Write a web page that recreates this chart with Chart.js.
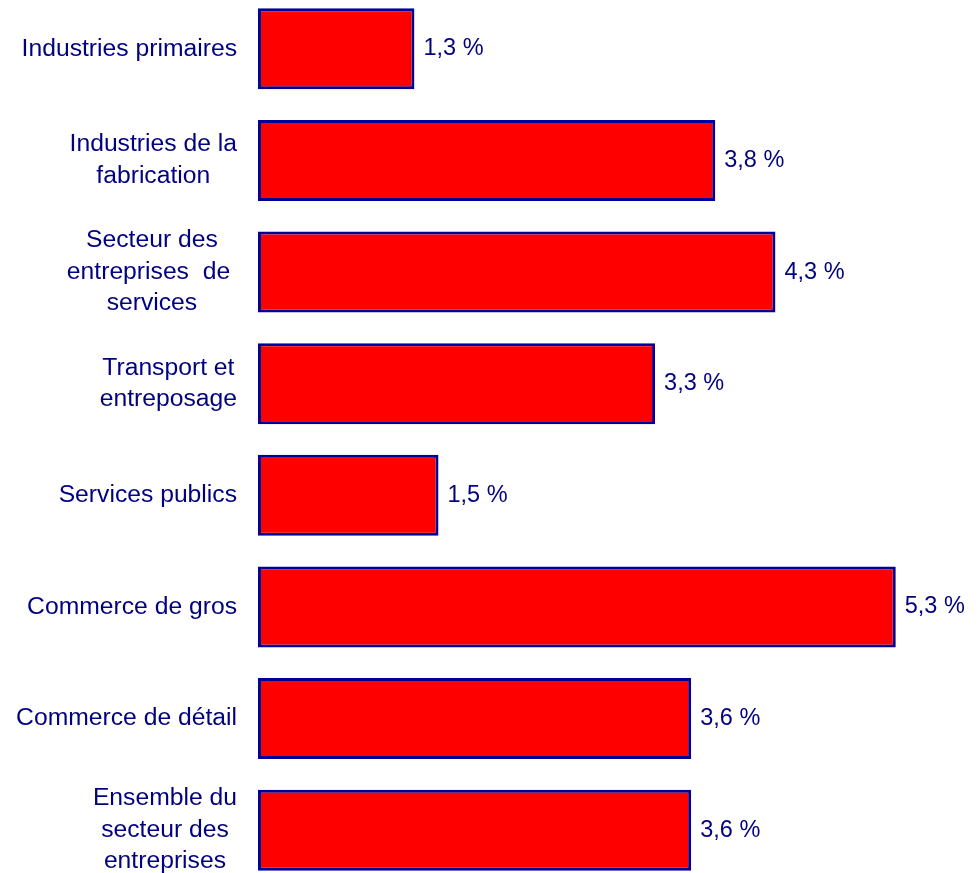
<!DOCTYPE html>
<html lang="fr">
<head>
<meta charset="utf-8">
<title>Secteurs</title>
<script src="https://cdn.jsdelivr.net/npm/chart.js@4/dist/chart.umd.min.js"></script>
<style>
  html, body { margin: 0; padding: 0; background: #fff; overflow: hidden; }
  body { width: 978px; height: 873px; position: relative; }
  #wrap { position: absolute; left: 0; top: -7px; width: 980px; height: 893px; }
</style>
</head>
<body>
<div id="wrap"><canvas id="chart"></canvas></div>
<script>
// libellés des secteurs, une ligne par élément
const sectors = [
  ['Industries primaires'],
  ['Industries de la', 'fabrication'],
  ['Secteur des', 'entreprises  de ', 'services'],
  ['Transport et', 'entreposage'],
  ['Services publics'],
  ['Commerce de gros'],
  ['Commerce de détail'],
  ['Ensemble du', 'secteur des', 'entreprises'],
];
const growth = [1.3, 3.8, 4.3, 3.3, 1.5, 5.3, 3.6, 3.6];
const axisMax = 6;

const NAVY = '#000080';
const LABEL_FONT = '24.7px "Liberation Sans", Arial, sans-serif';
const VALUE_FONT = '23.5px "Liberation Sans", Arial, sans-serif';

function formatPct(v) {
  return v.toFixed(1).replace('.', ',') + ' %';
}

// étiquettes de catégories (blocs alignés à droite, lignes centrées) et valeurs en bout de barre
const labelsPlugin = {
  id: 'sectorLabels',
  afterDatasetsDraw(chart) {
    const { ctx } = chart;
    const yScale = chart.scales.y;
    const meta = chart.getDatasetMeta(0);
    const lineH = 31.5;
    const rightEdge = 237;
    ctx.save();
    ctx.fillStyle = NAVY;
    ctx.textBaseline = 'middle';

    ctx.font = LABEL_FONT;
    ctx.textAlign = 'center';
    sectors.forEach((lines, i) => {
      const y = yScale.getPixelForValue(i);
      const widest = Math.max(...lines.map((l) => ctx.measureText(l).width));
      const cx = rightEdge - widest / 2;
      const top = y - ((lines.length - 1) * lineH) / 2;
      lines.forEach((l, k) => ctx.fillText(l, cx, top + k * lineH));
    });

    ctx.font = VALUE_FONT;
    ctx.textAlign = 'left';
    meta.data.forEach((bar, i) => {
      ctx.fillText(formatPct(growth[i]), bar.x + 9, bar.y);
    });
    ctx.restore();
  },
};

new Chart(document.getElementById('chart'), {
  type: 'bar',
  data: {
    labels: sectors,
    datasets: [{
      data: growth,
      backgroundColor: '#ff0000',
      borderColor: '#000099',
      borderWidth: 3,
      borderSkipped: false,
      categoryPercentage: 1,
      barPercentage: 0.726,
    }],
  },
  options: {
    indexAxis: 'y',
    responsive: true,
    maintainAspectRatio: false,
    animation: false,
    layout: { padding: { left: 258, right: 0, top: 0, bottom: 0 } },
    plugins: { legend: { display: false }, tooltip: { enabled: false } },
    scales: {
      x: { display: false, min: 0, max: axisMax },
      y: { display: false },
    },
  },
  plugins: [labelsPlugin],
});
</script>
</body>
</html>
